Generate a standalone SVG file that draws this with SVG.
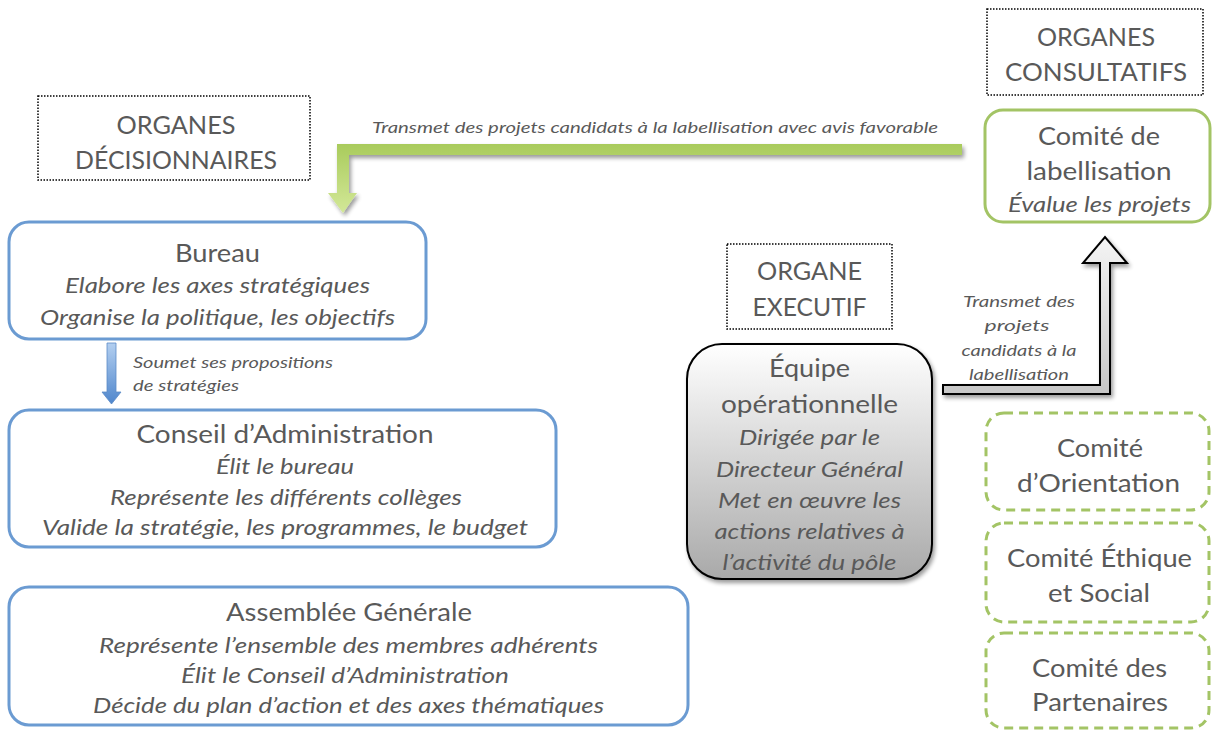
<svg xmlns="http://www.w3.org/2000/svg" width="1214" height="731" viewBox="0 0 1214 731">
<style>
text{font-family:Lato,"Open Sans","Liberation Sans",sans-serif;fill:#595959;text-anchor:middle}
.t{font-size:24.5px}
.h{font-size:25px}
.i{font-size:21px;font-style:italic}
.s{font-size:16px;font-style:italic}
.dot{fill:#fff;stroke:#000;stroke-width:1.5;stroke-dasharray:1.5 1.5}
.blue{fill:#fff;stroke:#6b9bd2;stroke-width:3}
.grn{fill:#fff;stroke:#a3c465;stroke-width:3}
.dash{fill:#fff;stroke:#a3c465;stroke-width:3;stroke-dasharray:9 6}
</style>
<defs>
<linearGradient id="gEq" x1="0" y1="0" x2="0" y2="1"><stop offset="0" stop-color="#ffffff"/><stop offset="1" stop-color="#a9a9a9"/></linearGradient>
<linearGradient id="gGray" x1="0" y1="0" x2="0" y2="1"><stop offset="0" stop-color="#f4f4f4"/><stop offset="1" stop-color="#c6c6c6"/></linearGradient>
<linearGradient id="gGreen" x1="0" y1="0" x2="0" y2="1"><stop offset="0" stop-color="#a9cb5c"/><stop offset="1" stop-color="#d3e898"/></linearGradient>
<linearGradient id="gBlue" x1="0" y1="0" x2="0" y2="1"><stop offset="0" stop-color="#b3cff0"/><stop offset="1" stop-color="#4f86cc"/></linearGradient>
<filter id="sh" x="-10%" y="-10%" width="130%" height="130%"><feGaussianBlur in="SourceAlpha" stdDeviation="2"/><feOffset dx="1.5" dy="2.5" result="b"/><feComponentTransfer><feFuncA type="linear" slope="0.4"/></feComponentTransfer><feMerge><feMergeNode/><feMergeNode in="SourceGraphic"/></feMerge></filter>
</defs>

<g id="connectors">
<path id="arrow-labellisation-bureau" d="M962,144 L337,144 L337,193 L328,193 L343,213 L357,193 L349,193 L349,155 L962,155 Z" fill="url(#gGreen)" filter="url(#sh)"/>
<text class="s" x="655" y="133" textLength="566" lengthAdjust="spacingAndGlyphs">Transmet des projets candidats à la labellisation avec avis favorable</text>
<path id="arrow-bureau-conseil" d="M107,343 L116,343 L116,392 L121,392 L111.5,404 L102,392 L107,392 Z" fill="url(#gBlue)" stroke="#5a8ac6" stroke-width="0.8"/>
<text class="s" x="133" y="368" style="text-anchor:start" textLength="200" lengthAdjust="spacingAndGlyphs">Soumet ses propositions</text>
<text class="s" x="133" y="391" style="text-anchor:start" textLength="106" lengthAdjust="spacingAndGlyphs">de stratégies</text>
<path id="arrow-equipe-labellisation" d="M943,385 L1100,385 L1100,263 L1083,263 L1105,237 L1127,263 L1110,263 L1110,394 L943,394 Z" fill="url(#gGray)" stroke="#000" stroke-width="2" stroke-linejoin="miter" filter="url(#sh)"/>
<text class="s" x="1019" y="307" textLength="112" lengthAdjust="spacingAndGlyphs">Transmet des</text>
<text class="s" x="1017" y="331" textLength="65" lengthAdjust="spacingAndGlyphs">projets</text>
<text class="s" x="1019" y="356" textLength="115" lengthAdjust="spacingAndGlyphs">candidats à la</text>
<text class="s" x="1019" y="380" textLength="100" lengthAdjust="spacingAndGlyphs">labellisation</text>
</g>

<g id="hdr-decisionnaires">
<rect class="dot" x="38" y="96" width="272" height="84"/>
<text class="h" x="176" y="134" textLength="119" lengthAdjust="spacingAndGlyphs">ORGANES</text>
<text class="h" x="176" y="169" textLength="202" lengthAdjust="spacingAndGlyphs">DÉCISIONNAIRES</text>
</g>

<g id="hdr-executif">
<rect class="dot" x="727" y="244" width="165" height="85"/>
<text class="h" x="809.5" y="280" textLength="105" lengthAdjust="spacingAndGlyphs">ORGANE</text>
<text class="h" x="809.5" y="316" textLength="114" lengthAdjust="spacingAndGlyphs">EXECUTIF</text>
</g>

<g id="hdr-consultatifs">
<rect class="dot" x="987" y="9" width="216" height="86"/>
<text class="h" x="1096" y="46" textLength="118" lengthAdjust="spacingAndGlyphs">ORGANES</text>
<text class="h" x="1096" y="81" textLength="182" lengthAdjust="spacingAndGlyphs">CONSULTATIFS</text>
</g>

<g id="bureau">
<rect class="blue" x="9" y="222" width="417" height="117" rx="20"/>
<text class="t" x="217.5" y="262" textLength="85" lengthAdjust="spacingAndGlyphs">Bureau</text>
<text class="i" x="217.5" y="293" textLength="305" lengthAdjust="spacingAndGlyphs">Elabore les axes stratégiques</text>
<text class="i" x="217.5" y="325" textLength="355" lengthAdjust="spacingAndGlyphs">Organise la politique, les objectifs</text>
</g>

<g id="conseil">
<rect class="blue" x="9" y="410" width="547" height="137" rx="20"/>
<text class="t" x="285" y="443" textLength="297" lengthAdjust="spacingAndGlyphs">Conseil d’Administration</text>
<text class="i" x="285" y="474" textLength="138" lengthAdjust="spacingAndGlyphs">Élit le bureau</text>
<text class="i" x="286" y="505" textLength="352" lengthAdjust="spacingAndGlyphs">Représente les différents collèges</text>
<text class="i" x="285" y="535" textLength="486" lengthAdjust="spacingAndGlyphs">Valide la stratégie, les programmes, le budget</text>
</g>

<g id="assemblee">
<rect class="blue" x="9" y="587" width="679" height="138" rx="20"/>
<text class="t" x="349" y="621" textLength="246" lengthAdjust="spacingAndGlyphs">Assemblée Générale</text>
<text class="i" x="348.5" y="653" textLength="499" lengthAdjust="spacingAndGlyphs">Représente l’ensemble des membres adhérents</text>
<text class="i" x="345" y="683" textLength="328" lengthAdjust="spacingAndGlyphs">Élit le Conseil d’Administration</text>
<text class="i" x="348.5" y="713" textLength="511" lengthAdjust="spacingAndGlyphs">Décide du plan d’action et des axes thématiques</text>
</g>

<g id="equipe">
<rect x="687" y="344" width="245" height="235" rx="35" fill="url(#gEq)" stroke="#000" stroke-width="2" filter="url(#sh)"/>
<text class="t" x="809.5" y="377" textLength="81" lengthAdjust="spacingAndGlyphs">Équipe</text>
<text class="t" x="809.5" y="413" textLength="177" lengthAdjust="spacingAndGlyphs">opérationnelle</text>
<text class="i" x="809.5" y="445" textLength="141" lengthAdjust="spacingAndGlyphs">Dirigée par le</text>
<text class="i" x="809.5" y="477" textLength="187" lengthAdjust="spacingAndGlyphs">Directeur Général</text>
<text class="i" x="809.5" y="508" textLength="183" lengthAdjust="spacingAndGlyphs">Met en œuvre les</text>
<text class="i" x="809.5" y="539" textLength="190" lengthAdjust="spacingAndGlyphs">actions relatives à</text>
<text class="i" x="809.5" y="570" textLength="174" lengthAdjust="spacingAndGlyphs">l’activité du pôle</text>
</g>

<g id="comite-labellisation">
<rect class="grn" x="985" y="110" width="225" height="112" rx="18"/>
<text class="t" x="1099" y="145" textLength="122" lengthAdjust="spacingAndGlyphs">Comité de</text>
<text class="t" x="1099" y="180" textLength="145" lengthAdjust="spacingAndGlyphs">labellisation</text>
<text class="i" x="1099.5" y="212" textLength="183" lengthAdjust="spacingAndGlyphs">Évalue les projets</text>
</g>

<g id="comite-orientation">
<rect class="dash" x="986" y="413" width="223" height="97" rx="18"/>
<text class="t" x="1100" y="457" textLength="86" lengthAdjust="spacingAndGlyphs">Comité</text>
<text class="t" x="1098.5" y="492" textLength="163" lengthAdjust="spacingAndGlyphs">d’Orientation</text>
</g>

<g id="comite-ethique">
<rect class="dash" x="986" y="523" width="223" height="99" rx="18"/>
<text class="t" x="1099.5" y="567" textLength="185" lengthAdjust="spacingAndGlyphs">Comité Éthique</text>
<text class="t" x="1099" y="602" textLength="102" lengthAdjust="spacingAndGlyphs">et Social</text>
</g>

<g id="comite-partenaires">
<rect class="dash" x="986" y="633" width="223" height="95" rx="18"/>
<text class="t" x="1099.5" y="677" textLength="135" lengthAdjust="spacingAndGlyphs">Comité des</text>
<text class="t" x="1100" y="711" textLength="136" lengthAdjust="spacingAndGlyphs">Partenaires</text>
</g>
</svg>
